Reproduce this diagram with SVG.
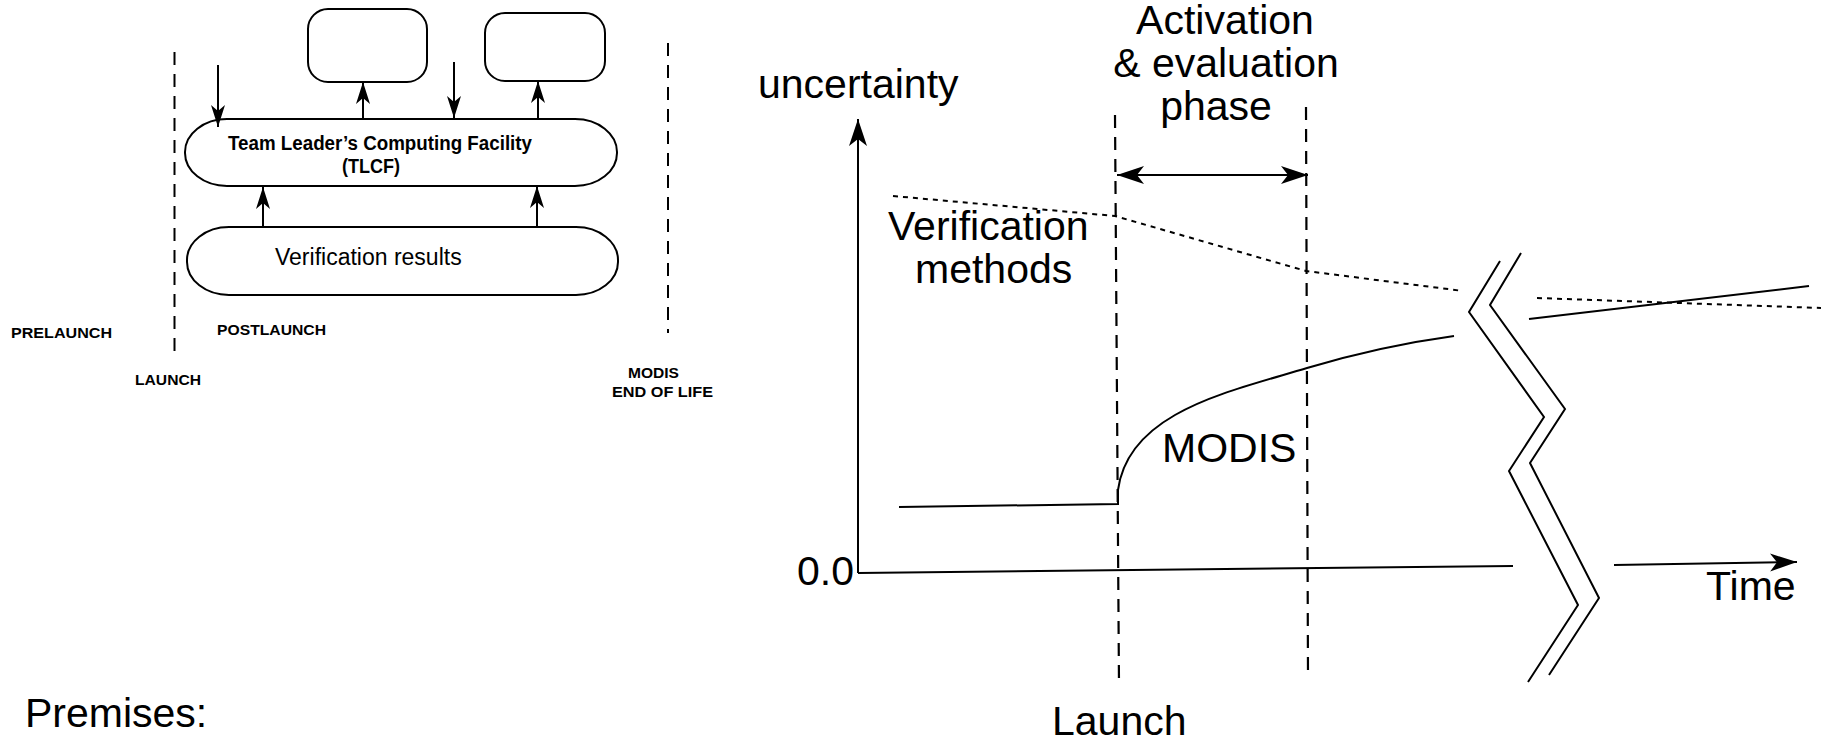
<svg xmlns="http://www.w3.org/2000/svg" width="1821" height="742" viewBox="0 0 1821 742">
<style>
  .ln{fill:none;stroke:#000;stroke-width:2}
  .dash{fill:none;stroke:#000;stroke-width:2;stroke-dasharray:13 9}
  .dot{fill:none;stroke:#000;stroke-width:2;stroke-dasharray:5 5}
  .box{fill:#fff;stroke:#000;stroke-width:2}
  .big{font-family:"Liberation Sans",Arial,sans-serif;font-size:41px;fill:#000}
  .sm{font-family:"Liberation Sans",Arial,sans-serif;font-size:15px;font-weight:bold;fill:#000}
</style>
<defs>
  <marker id="ahs" markerWidth="26" markerHeight="18" refX="22" refY="8" orient="auto" markerUnits="userSpaceOnUse">
    <path d="M0,1 L22,8 L0,15 L6,8 Z" fill="#000"/>
  </marker>
  <marker id="ahb" markerWidth="30" markerHeight="20" refX="27" refY="9" orient="auto-start-reverse" markerUnits="userSpaceOnUse">
    <path d="M0,0 L27,9 L0,18 L7,9 Z" fill="#000"/>
  </marker>
</defs>

<!-- Left diagram -->
<g id="phase-lines">
  <line class="dash" x1="174.5" y1="52" x2="174.5" y2="352"/>
  <line class="dash" x1="668" y1="43" x2="668" y2="333"/>
</g>
<g id="box1"><rect class="box" x="308" y="9" width="119" height="73" rx="20" ry="20"/></g>
<g id="box2"><rect class="box" x="485" y="13" width="120" height="68" rx="20" ry="20"/></g>
<g id="tlcf">
  <rect class="box" x="185" y="119" width="432" height="67" rx="42" ry="33"/>
  <text class="sm" style="font-size:20px" x="228" y="150" textLength="304" lengthAdjust="spacingAndGlyphs">Team Leader’s Computing Facility</text>
  <text class="sm" style="font-size:20px" x="342" y="173" textLength="58" lengthAdjust="spacingAndGlyphs">(TLCF)</text>
</g>
<g id="verification-results">
  <rect class="box" x="187" y="227" width="431" height="68" rx="42" ry="33"/>
  <text font-family="Liberation Sans, Arial, sans-serif" font-size="23" x="275" y="265">Verification results</text>
</g>
<g id="connectors">
  <line class="ln" x1="218" y1="65" x2="218" y2="127" marker-end="url(#ahs)"/>
  <line class="ln" x1="363" y1="120" x2="363" y2="82" marker-end="url(#ahs)"/>
  <line class="ln" x1="454" y1="62" x2="454" y2="118" marker-end="url(#ahs)"/>
  <line class="ln" x1="538" y1="119" x2="538" y2="81" marker-end="url(#ahs)"/>
  <line class="ln" x1="263" y1="227" x2="263" y2="187" marker-end="url(#ahs)"/>
  <line class="ln" x1="537" y1="227" x2="537" y2="186" marker-end="url(#ahs)"/>
</g>
<g id="left-labels">
  <text class="sm" x="11" y="338" textLength="101" lengthAdjust="spacingAndGlyphs">PRELAUNCH</text>
  <text class="sm" x="217" y="335" textLength="109" lengthAdjust="spacingAndGlyphs">POSTLAUNCH</text>
  <text class="sm" x="135" y="385" textLength="66" lengthAdjust="spacingAndGlyphs">LAUNCH</text>
  <text class="sm" x="628" y="378" textLength="51" lengthAdjust="spacingAndGlyphs">MODIS</text>
  <text class="sm" x="612" y="397" textLength="101" lengthAdjust="spacingAndGlyphs">END OF LIFE</text>
</g>

<text class="big" x="25" y="727">Premises:</text>

<!-- Right chart -->
<g id="chart">
  <line class="ln" x1="858" y1="573" x2="858" y2="119" marker-end="url(#ahb)"/>
  <path class="ln" d="M858,573 L1513,566"/>
  <path class="ln" d="M1614,565 L1797,562" marker-end="url(#ahb)"/>
  <line class="dash" x1="1115" y1="115" x2="1119" y2="685" style="stroke-width:2.2"/>
  <line class="dash" x1="1306" y1="107" x2="1308" y2="678" style="stroke-width:2.2"/>
  <line class="ln" x1="1117" y1="175" x2="1308" y2="175" marker-start="url(#ahb)" marker-end="url(#ahb)"/>
  <path class="dot" d="M893,196 L1115,216 L1306,271 L1463,291"/>
  <path class="dot" d="M1537,298 L1821,308"/>
  <path class="ln" d="M899,507 L1118,504 L1118,490 C1122,460 1140,435 1175,415 S1250,385 1307,368 S1410,342 1454,336"/>
  <path class="ln" d="M1529,319 L1809,286"/>
  <path class="ln" d="M1500,261 L1469,312 L1544,417 L1509,471 L1578,605 L1528,682"/>
  <path class="ln" d="M1521,253 L1490,305 L1565,409 L1530,463 L1599,598 L1549,675"/>
</g>
<g id="chart-labels">
  <text class="big" x="758" y="98">uncertainty</text>
  <text class="big" x="1225" y="34" text-anchor="middle">Activation</text>
  <text class="big" x="1226" y="77" text-anchor="middle">&amp; evaluation</text>
  <text class="big" x="1216" y="120" text-anchor="middle">phase</text>
  <text class="big" x="888" y="240">Verification</text>
  <text class="big" x="915" y="283">methods</text>
  <text class="big" x="1162" y="462">MODIS</text>
  <text class="big" x="797" y="585">0.0</text>
  <text class="big" x="1052" y="735">Launch</text>
  <text class="big" x="1706" y="600">Time</text>
</g>
</svg>
